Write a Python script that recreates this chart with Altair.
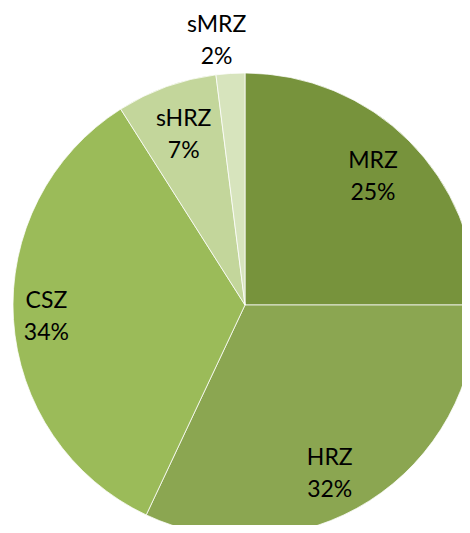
import altair as alt
import pandas as pd
import math

zones = ["MRZ", "HRZ", "CSZ", "sHRZ", "sMRZ"]
shares = [25, 32, 34, 7, 2]
colors = ["#77933C", "#8BA651", "#9BBB59", "#C3D69B", "#D7E4BD"]

df = pd.DataFrame({"zone": zones, "share": shares, "idx": list(range(len(zones)))})

CX, CY, R = 237, 297, 232

pie = alt.Chart(df).mark_arc(stroke="#ffffff", strokeWidth=0.75).encode(
    theta=alt.Theta("share:Q", stack=True),
    order=alt.Order("idx:Q"),
    color=alt.Color("zone:N", scale=alt.Scale(domain=zones, range=colors), legend=None),
    radius=alt.value(R),
    x=alt.value(CX),
    y=alt.value(CY),
)

# label placement (best-fit style): small per-label angle / radius tweaks
labels = alt.Chart(df).transform_window(
    cum="sum(share)", sort=[alt.SortField("idx")]
).transform_calculate(
    mid="datum.cum - datum.share / 2 + (datum.zone == 'HRZ' ? 1.6 : (datum.zone == 'sMRZ' ? -0.7 : 0))",
    label="datum.zone + '\\n' + datum.share + '%'",
    lr="datum.zone == 'sMRZ' ? 266 : (datum.zone == 'CSZ' ? 199 : (datum.zone == 'HRZ' ? 189 : 181))",
).mark_text(
    font="Lato", fontSize=23, lineBreak="\n", lineHeight=32, color="#000000", dy=-16
).encode(
    theta=alt.Theta("mid:Q", stack=None, scale=alt.Scale(domain=[0, 100], range=[0, 2 * math.pi])),
    radius=alt.Radius("lr:Q", scale=None),
    text="label:N",
    x=alt.value(CX),
    y=alt.value(CY),
)

chart = alt.layer(pie, labels).properties(
    width=454, height=517, autosize=alt.AutoSizeParams(type="none"), padding=0
).configure_view(stroke=None)

chart.save("out.html", embed_options={"renderer": "svg", "actions": False})
